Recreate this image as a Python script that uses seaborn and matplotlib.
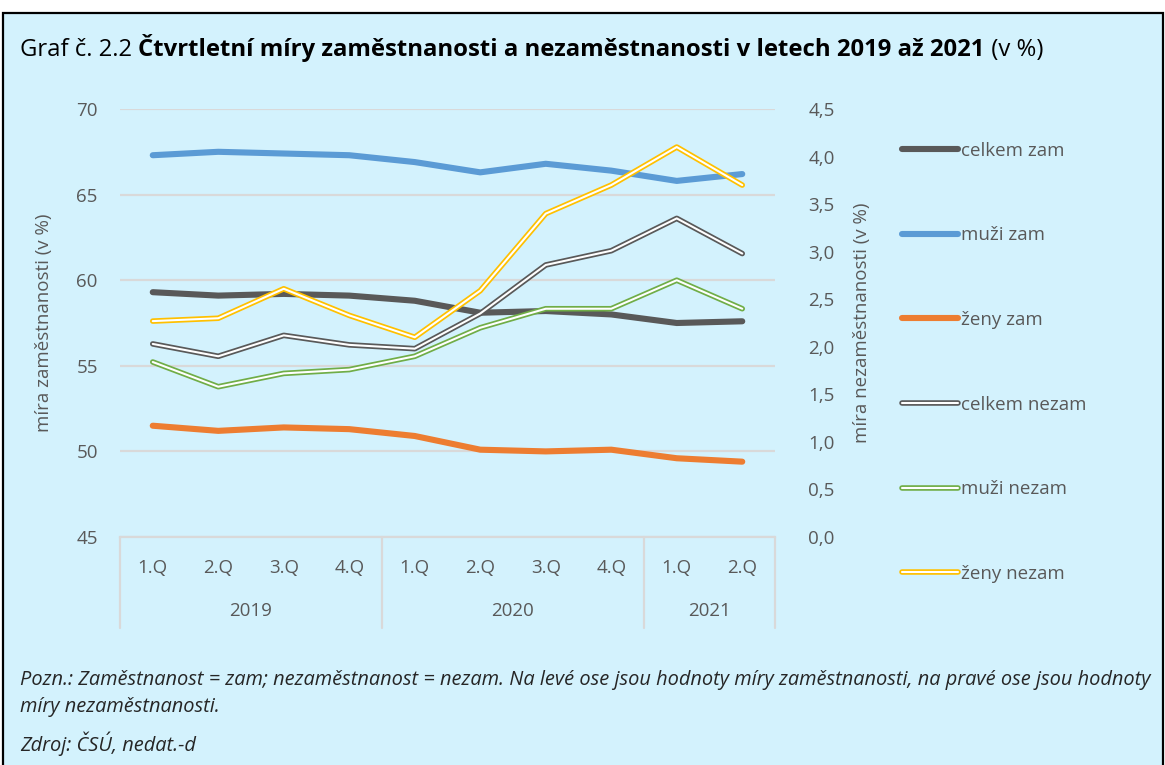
import numpy as np
import pandas as pd
import matplotlib
matplotlib.use("Agg")
import matplotlib.pyplot as plt
import matplotlib.transforms as mtransforms
import seaborn as sns
from matplotlib.lines import Line2D
from matplotlib.patches import Rectangle
from matplotlib.ticker import FuncFormatter, MultipleLocator
from matplotlib.legend_handler import HandlerTuple

# Data
quarters = ["1.Q", "2.Q", "3.Q", "4.Q", "1.Q", "2.Q", "3.Q", "4.Q", "1.Q", "2.Q"]
years = ["2019", "2020", "2021"]
year_counts = [4, 4, 2]

celkem_zam = [59.3, 59.1, 59.2, 59.1, 58.8, 58.1, 58.2, 58.0, 57.5, 57.6]
muzi_zam = [67.3, 67.5, 67.4, 67.3, 66.9, 66.3, 66.8, 66.4, 65.8, 66.2]
zeny_zam = [51.5, 51.2, 51.4, 51.3, 50.9, 50.1, 50.0, 50.1, 49.6, 49.4]

celkem_nezam = [2.03, 1.90, 2.12, 2.02, 1.98, 2.35, 2.86, 3.01, 3.35, 2.98]
muzi_nezam = [1.84, 1.58, 1.72, 1.76, 1.90, 2.20, 2.40, 2.40, 2.70, 2.40]
zeny_nezam = [2.27, 2.30, 2.61, 2.33, 2.10, 2.59, 3.40, 3.70, 4.10, 3.70]

zam_labels = ["celkem zam", "muži zam", "ženy zam"]
nezam_labels = ["celkem nezam", "muži nezam", "ženy nezam"]
zam_colors = ["#595959", "#5b9bd5", "#ed7d31"]
nezam_colors = ["#595959", "#70ad47", "#ffc000"]

df = pd.DataFrame({
    "poradi": np.arange(len(quarters)),
    "celkem zam": celkem_zam, "muži zam": muzi_zam, "ženy zam": zeny_zam,
    "celkem nezam": celkem_nezam, "muži nezam": muzi_nezam, "ženy nezam": zeny_nezam,
})

sns.set_style("white")
plt.rcParams["font.family"] = ["Open Sans", "DejaVu Sans"]

bg = "#d3f2fd"
grey_txt = "#595959"
grid_c = "#d9d9d9"
thick = 4.4
outer, inner = 4.0, 1.5

fig = plt.figure(figsize=(11.65, 7.65), dpi=100)
fig.patch.set_facecolor("white")
fig.patches.append(Rectangle((3 / 1165, -0.01), 1160 / 1165, (765 - 13) / 765 + 0.01,
                             transform=fig.transFigure, facecolor=bg, edgecolor="black",
                             linewidth=1.6, zorder=-10))

ax = fig.add_axes([120 / 1165, (765 - 537) / 765, 655 / 1165, 428 / 765])
ax.set_facecolor("none")
ax2 = ax.twinx()
ax2.set_facecolor("none")

# employment lines (left axis)
for lab, c in zip(zam_labels, zam_colors):
    sns.lineplot(data=df, x="poradi", y=lab, ax=ax, color=c, linewidth=thick,
                 solid_capstyle="round", legend=False)

# unemployment double lines (right axis)
for lab, c in zip(nezam_labels, nezam_colors):
    sns.lineplot(data=df, x="poradi", y=lab, ax=ax2, color=c, linewidth=outer,
                 solid_capstyle="round", legend=False)
    sns.lineplot(data=df, x="poradi", y=lab, ax=ax2, color="white", linewidth=inner,
                 solid_capstyle="round", legend=False)

ax.set_xlim(-0.5, len(quarters) - 0.5)
ax.set_ylim(45, 70)
ax2.set_ylim(0, 4.5)
ax.yaxis.set_major_locator(MultipleLocator(5))
ax2.yaxis.set_major_locator(MultipleLocator(0.5))
ax2.yaxis.set_major_formatter(FuncFormatter(lambda v, p: f"{v:.1f}".replace(".", ",")))

ax.grid(axis="y", color=grid_c, linewidth=1.6)
ax.set_axisbelow(True)
for a in (ax, ax2):
    for s in a.spines.values():
        s.set_visible(False)
ax.spines["bottom"].set_visible(True)
ax.spines["bottom"].set_color(grid_c)
ax.spines["bottom"].set_linewidth(1.6)

ax.set_xticks(np.arange(len(quarters)))
ax.set_xticklabels(quarters)
ax.tick_params(axis="x", length=0, pad=16, labelsize=13.5, labelcolor=grey_txt)
ax.tick_params(axis="y", length=0, pad=16, labelsize=13.5, labelcolor=grey_txt)
ax2.tick_params(axis="y", length=0, pad=24, labelsize=13.5, labelcolor=grey_txt)

ax.set_xlabel("")
ax.set_ylabel("míra zaměstnanosti (v %)", fontsize=13.5, color=grey_txt, labelpad=17)
ax2.set_ylabel("míra nezaměstnanosti (v %)", fontsize=13.5, color=grey_txt,
               rotation=90, labelpad=13)

# year groups under the quarter labels
trans = mtransforms.blended_transform_factory(ax.transData, ax.transAxes)
edges = np.concatenate([[0], np.cumsum(year_counts)]) - 0.5
for x in edges:
    ax.plot([x, x], [0, -0.212], transform=trans, color=grid_c, linewidth=1.6,
            clip_on=False)
for y_lab, lo, hi in zip(years, edges[:-1], edges[1:]):
    ax.text((lo + hi) / 2, -0.173, y_lab, transform=trans, ha="center", va="center",
            fontsize=13.5, color=grey_txt)

# legend
handles = []
for c in zam_colors:
    handles.append(Line2D([], [], color=c, linewidth=thick, solid_capstyle="round"))
for c in nezam_colors:
    handles.append((Line2D([], [], color=c, linewidth=outer, solid_capstyle="round"),
                    Line2D([], [], color="white", linewidth=inner, solid_capstyle="round")))
leg = fig.legend(handles, zam_labels + nezam_labels, loc="upper left",
                 bbox_to_anchor=(885 / 1165, (765 - 125) / 765), frameon=False,
                 fontsize=13.5, labelcolor=grey_txt, handlelength=3.0, handletextpad=0.15,
                 labelspacing=3.55, handler_map={tuple: HandlerTuple(ndivide=1)})

# title made of regular + bold parts
renderer = fig.canvas.get_renderer()
x0 = 20
title_y = 1 - 56 / 765
parts = [("Graf č. 2.2 ", "normal"),
         ("Čtvrtletní míry zaměstnanosti a nezaměstnanosti v letech 2019 až 2021", "bold"),
         (" (v %)", "normal")]
for txt, w in parts:
    t = fig.text(x0 / 1165, title_y, txt, fontsize=17.2, fontweight=w, color="black",
                 va="baseline", ha="left")
    bb = t.get_window_extent(renderer=renderer)
    x0 += bb.width

note_font = ["Open Sans", "DejaVu Sans"]
fig.text(20 / 1165, 1 - 680 / 765,
         "Pozn.: Zaměstnanost = zam; nezaměstnanost = nezam. Na levé ose jsou hodnoty míry "
         "zaměstnanosti, na pravé ose jsou hodnoty", fontsize=14.4, style="italic",
         family=note_font, va="center", ha="left")
fig.text(20 / 1165, 1 - 707 / 765, "míry nezaměstnanosti.", fontsize=14.4, style="italic",
         family=note_font, va="center", ha="left")
fig.text(20 / 1165, 1 - 744 / 765, "Zdroj: ČSÚ, nedat.-d", fontsize=14.4, style="italic",
         family=note_font, va="center", ha="left")

fig.savefig("out.png", dpi=100, facecolor=fig.get_facecolor())
